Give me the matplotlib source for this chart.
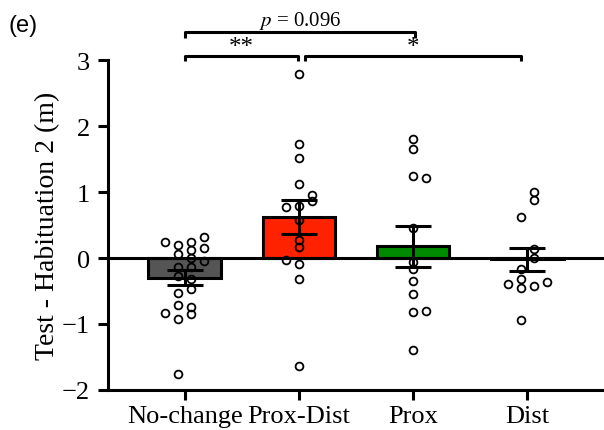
import numpy as np
import matplotlib
matplotlib.use('Agg')
import matplotlib.pyplot as plt

plt.rcParams['font.family'] = ['Liberation Serif', 'DejaVu Serif']
plt.rcParams['mathtext.fontset'] = 'stix'

groups = ['No-change', 'Prox-Dist', 'Prox', 'Dist']
means = [-0.30, 0.62, 0.18, -0.02]
sems = [0.115, 0.26, 0.31, 0.17]
colors = ['#555555', '#ff2200', '#008a00', '#6b6b1a']

# individual animals, with their column in the dot layout
nochange_vals = [0.25, 0.19, 0.24, 0.32, 0.06, 0.12, 0.15, 0.0, -0.05, -0.14, -0.13,
                 -0.27, -0.32, -0.47, -0.53, -0.71, -0.74, -0.84, -0.85, -0.93, -1.76]
nochange_cols = [-1.5, -0.5, 0.5, 1.5, -0.5, 0.5, 1.5, 0.5, 1.5, -0.5, 0.5,
                 -0.5, 0.5, 0.5, -0.5, -0.5, 0.5, -1.5, 0.5, -0.5, -0.5]
proxdist_vals = [2.79, 1.73, 1.51, 1.12, 0.95, 0.87, 0.78, 0.79, 0.57, 0.28, 0.16,
                 -0.03, -0.09, -0.32, -1.63]
proxdist_cols = [0, 0, 0, 0, 1, 1, -1, 0, 0, 0, 0, -1, 0, 0, 0]
prox_vals = [1.81, 1.65, 1.24, 1.21, 0.45, -0.055, -0.17, -0.35, -0.55, -0.82, -0.81, -1.39]
prox_cols = [0, 0, 0, 1, 0, 0, 0, 0, 0, 0, 1, 0]
dist_vals = [0.995, 0.88, 0.62, 0.14, 0.0, -0.16, -0.32, -0.40, -0.46, -0.42, -0.37, -0.94]
dist_cols = [0.5, 0.5, -0.5, 0.5, 0.5, -0.5, -0.5, -1.5, -0.5, 0.5, 1.5, -0.5]

points = [(nochange_vals, nochange_cols), (proxdist_vals, proxdist_cols),
          (prox_vals, prox_cols), (dist_vals, dist_cols)]

fig = plt.figure(figsize=(6.04, 4.31), dpi=100)
ax = fig.add_axes([108/604, 1-391/431, 1-108/604, 330/431])

x = np.arange(len(groups))
lw = 2.2
ax.bar(x, means, width=0.64, color=colors, edgecolor='black', linewidth=lw, zorder=2)
ax.axhline(0, color='black', lw=lw, zorder=3)
ax.errorbar(x, means, yerr=sems, fmt='none', ecolor='black', elinewidth=lw,
            capsize=13, capthick=lw, zorder=4)

col_step = 0.114
for i, (vals, cols) in enumerate(points):
    xs = i + np.array(cols) * col_step
    ax.plot(xs, vals, 'o', ms=5.6, mfc='none', mec='black', mew=1.3, zorder=5,
            clip_on=False)

ax.set_xlim(-0.675, 3.675)
ax.set_ylim(-2, 3)
ax.set_yticks([-2, -1, 0, 1, 2, 3])
ax.set_xticks(x)
ax.set_xticklabels(groups, fontsize=19)
ax.tick_params(axis='y', labelsize=19, length=7, width=lw, pad=6)
ax.tick_params(axis='x', length=7, width=lw, pad=4)
for s in ['top', 'right']:
    ax.spines[s].set_visible(False)
for s in ['left', 'bottom']:
    ax.spines[s].set_linewidth(lw)
ax.set_ylabel('Test - Habituation 2 (m)', fontsize=20, labelpad=1)

# significance brackets
def bracket(x0, x1, y, h, label, fs, ty):
    ax.plot([x0, x0, x1, x1], [y - h, y, y, y - h], color='black', lw=lw,
            clip_on=False, solid_capstyle='butt')
    ax.text((x0 + x1) / 2, ty, label, ha='center', va='center', fontsize=fs)

bracket(0, 0.99, 3.06, 0.08, '**', 18, 3.2)
bracket(1.05, 2.95, 3.06, 0.08, '*', 18, 3.2)
bracket(0, 2.02, 3.42, 0.08, r'$p$ = 0.096', 15, 3.6)

fig.text(8/604, 1-26/431, '(e)', fontsize=17, family='Liberation Sans', va='center')

fig.savefig('out.png', dpi=100)
